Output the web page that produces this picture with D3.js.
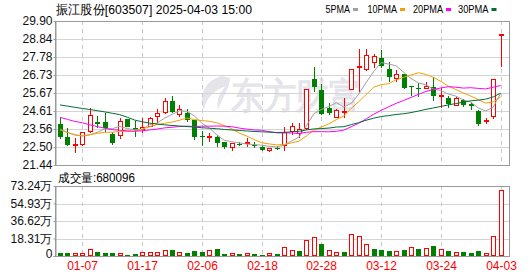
<!DOCTYPE html>
<html>
<head>
<meta charset="utf-8">
<script src="https://cdn.jsdelivr.net/npm/d3@7/dist/d3.min.js"></script>
<style>
body { margin: 0; background: #fff; }
svg { display: block; }
text { font-family: "Liberation Sans", Arial, sans-serif; }
</style>
</head>
<body>
<svg id="chart" width="530" height="276"></svg>
<script>
var stockTitle = "振江股份[603507] 2025-04-03 15:00";
var volTitle = "成交量:680096";
var maNames = ["5PMA", "10PMA", "20PMA", "30PMA"];

var dates = ["01-02","01-03","01-06","01-07","01-08","01-09","01-10","01-13","01-14","01-15",
  "01-16","01-17","01-20","01-21","01-22","01-23","01-24","01-27","02-05","02-06",
  "02-07","02-10","02-11","02-12","02-13","02-14","02-17","02-18","02-19","02-20",
  "02-21","02-24","02-25","02-26","02-27","02-28","03-03","03-04","03-05","03-06",
  "03-07","03-10","03-11","03-12","03-13","03-14","03-17","03-18","03-19","03-20",
  "03-21","03-24","03-25","03-26","03-27","03-28","03-31","04-01","04-02","04-03"];

var open = [23.85,23.08,22.63,22.63,23.42,23.97,23.97,23.26,23.18,24.12,
  23.61,23.54,23.73,24.28,24.51,25.20,24.38,24.51,24.08,23.12,
  23.08,23.10,22.78,22.48,22.70,22.72,22.64,22.52,22.30,22.46,
  22.56,23.42,23.28,23.60,26.47,25.85,24.77,24.24,24.57,25.85,
  27.22,27.06,27.47,27.71,27.07,26.53,26.77,26.06,25.96,25.94,
  26.00,25.51,25.36,24.96,25.24,25.02,24.61,24.02,24.28,29.10];
var high = [24.24,23.59,23.01,23.40,24.77,24.32,24.47,23.40,24.18,24.16,
  24.02,24.18,24.28,24.71,25.36,25.49,24.96,24.71,24.08,23.45,
  23.34,23.20,22.80,22.71,22.77,23.04,22.77,22.55,22.44,22.57,
  23.69,23.89,23.89,25.85,27.20,26.20,25.06,24.71,25.36,27.10,
  28.28,28.24,27.96,28.20,27.50,27.02,26.80,26.10,26.24,26.30,
  26.63,25.95,25.50,25.45,25.30,25.12,24.65,24.22,26.47,29.12];
var low = [22.99,22.58,22.17,22.56,23.34,23.59,23.40,22.60,22.95,23.65,
  23.10,23.34,23.69,23.93,24.44,24.51,24.28,23.99,22.91,22.57,
  22.80,22.47,22.38,22.26,22.57,22.52,22.42,22.28,22.18,22.32,
  22.26,23.20,23.03,23.52,25.75,24.38,24.35,24.19,24.21,25.82,
  25.75,26.98,27.12,27.12,26.33,26.30,25.90,25.49,25.45,25.90,
  25.20,24.77,24.78,24.90,24.85,24.70,23.75,23.85,24.12,27.20];
var close = [23.10,22.60,22.67,23.34,24.32,23.85,23.61,22.75,24.02,23.69,
  23.50,23.65,24.18,24.48,25.16,24.57,24.71,24.08,23.10,23.06,
  23.10,22.73,22.48,22.71,22.66,22.75,22.58,22.30,22.43,22.40,
  23.34,23.69,23.50,25.85,26.02,24.46,24.51,24.67,24.59,27.06,
  27.24,27.90,27.84,27.26,26.63,26.73,25.98,26.02,25.92,26.08,
  25.51,25.55,25.00,25.32,24.95,24.90,23.83,24.06,26.47,29.12];
var prevClose0 = 23.90;

var volume = [31800,31800,21000,21000,70800,42500,31800,31800,21000,10600,
  21000,31800,31800,31800,60000,63700,31800,31800,53000,46000,
  53000,74000,21000,21000,21000,21000,21000,10600,21000,21000,
  92000,60000,53000,159000,198000,127000,60000,39000,42000,223000,
  209000,124000,74000,64000,53000,50000,64000,92000,74000,74000,
  106000,71000,53000,32000,46000,35000,53000,21000,209000,680096];

var ma5 = [23.55,23.35,23.20,23.15,23.21,23.36,23.56,23.57,23.71,23.58,
  23.51,23.52,23.81,23.90,24.19,24.41,24.62,24.60,24.32,23.90,
  23.61,23.21,22.89,22.81,22.74,22.67,22.64,22.60,22.54,22.50,
  22.61,22.84,23.08,23.76,24.46,24.70,24.87,25.10,24.85,25.06,
  25.61,26.29,26.93,27.46,27.37,27.27,26.89,26.52,26.26,26.15,
  25.90,25.82,25.61,25.49,25.27,25.14,24.80,24.61,24.84,25.66];
var ma10 = [23.50,23.35,23.22,23.15,23.22,23.30,23.36,23.36,23.42,23.40,
  23.44,23.54,23.69,23.81,23.89,23.96,24.07,24.20,24.11,24.05,
  24.01,23.92,23.75,23.57,23.32,23.14,22.93,22.75,22.68,22.62,
  22.64,22.74,22.84,23.15,23.49,23.67,23.86,24.10,24.32,24.77,
  25.16,25.58,26.01,26.16,26.22,26.44,26.59,26.73,26.86,26.76,
  26.59,26.35,26.07,25.87,25.67,25.49,25.28,25.08,25.14,25.44];
var ma20 = [24.24,24.12,24.00,23.92,23.80,23.70,23.60,23.52,23.48,23.45,
  23.42,23.45,23.50,23.55,23.62,23.66,23.70,23.72,23.70,23.72,
  23.72,23.73,23.72,23.69,23.61,23.55,23.50,23.48,23.40,23.33,
  23.32,23.32,23.29,23.36,23.40,23.40,23.39,23.42,23.49,23.69,
  23.89,24.15,24.42,24.65,24.86,25.06,25.23,25.41,25.59,25.76,
  25.87,25.97,26.04,26.01,25.96,25.98,25.94,25.91,26.01,26.11];
var ma30 = [24.97,24.90,24.83,24.76,24.70,24.63,24.56,24.48,24.40,24.25,
  24.08,23.98,23.90,23.85,23.80,23.76,23.73,23.70,23.67,23.63,
  23.60,23.57,23.53,23.50,23.47,23.44,23.41,23.39,23.37,23.35,
  23.36,23.39,23.42,23.50,23.56,23.58,23.61,23.67,23.69,23.81,
  23.93,24.07,24.19,24.29,24.34,24.41,24.45,24.52,24.61,24.71,
  24.79,24.88,24.97,25.05,25.13,25.21,25.25,25.31,25.44,25.66];

var priceTicks = ["21.44","22.50","23.56","24.61","25.67","26.73","27.78","28.84","29.90"];
var volTicks = [0, 183100, 366200, 549300, 732400];
var volTickLabels = ["0", "18.31万", "36.62万", "54.93万", "73.24万"];
var dateLabels = ["01-07","01-17","02-06","02-18","02-28","03-12","03-24","04-03"];

var RED = "#ff0000", GREEN = "#008000", BORDER = "#999", GRID = "#d4d4d4";
var maColors = ["#a0a0a0", "#f5a000", "#ff00ff", "#006f35"];
var LEFT = 55, RIGHT = 509, TOP = 21, BOTTOM = 165, VTOP = 186, VBOTTOM = 256;

var svg = d3.select("#chart");

var x = d3.scaleBand().domain(dates).range([56.2, 504.4]);
var cx = function(d) { return Math.round(x(d) + x.bandwidth() / 2) + 0.5; };
var y = d3.scaleLinear().domain([+priceTicks[0], +priceTicks[priceTicks.length - 1]]).range([BOTTOM, TOP]);
var vy = d3.scaleLinear().domain([0, volTicks[volTicks.length - 1]]).range([VBOTTOM, VTOP]);

// watermark
var wm = svg.append("g").attr("fill", "#e4e4ea");
wm.append("path")
  .attr("d", "M222,76 C206,80 198,94 204,110 C206,98 214,90 226,86 C220,92 216,100 218,110 C222,98 230,88 230,78 Z")
  .attr("fill", "#e4e4ea");
wm.append("text")
  .attr("x", 231).attr("y", 108)
  .attr("font-family", "Noto Sans CJK SC")
  .attr("font-weight", "bold")
  .attr("font-size", 36)
  .attr("textLength", 130)
  .attr("lengthAdjust", "spacingAndGlyphs")
  .text("东方财富");

// horizontal grid lines
svg.append("g").selectAll("line")
  .data(priceTicks.slice(1, -1))
  .join("line")
  .attr("x1", LEFT).attr("x2", RIGHT)
  .attr("y1", function(d) { return Math.round(y(+d)) + 0.5; })
  .attr("y2", function(d) { return Math.round(y(+d)) + 0.5; })
  .attr("stroke", GRID);

svg.append("g").selectAll("line")
  .data(volTicks.slice(1, -1))
  .join("line")
  .attr("x1", LEFT).attr("x2", RIGHT)
  .attr("y1", function(d) { return Math.round(vy(d)) + 0.5; })
  .attr("y2", function(d) { return Math.round(vy(d)) + 0.5; })
  .attr("stroke", GRID);

// vertical dashed lines
[[TOP, BOTTOM], [VTOP, VBOTTOM]].forEach(function(span) {
  svg.append("g").selectAll("line")
    .data(dateLabels)
    .join("line")
    .attr("x1", cx).attr("x2", cx)
    .attr("y1", span[0]).attr("y2", span[1])
    .attr("stroke", "#c8c8c8")
    .attr("stroke-dasharray", "4,4");
});

// panel borders
[[TOP, BOTTOM], [VTOP, VBOTTOM]].forEach(function(span) {
  svg.append("rect")
    .attr("x", LEFT + 0.5).attr("y", span[0] + 0.5)
    .attr("width", RIGHT - LEFT).attr("height", span[1] - span[0])
    .attr("fill", "none")
    .attr("stroke", BORDER);
});

// axes
var yAxis = svg.append("g")
  .attr("transform", "translate(" + (LEFT + 0.5) + ",0)")
  .call(d3.axisLeft(y).tickValues(priceTicks.map(Number)).tickFormat(d3.format(".2f")).tickSize(2).tickPadding(1).tickSizeOuter(0));
var vAxis = svg.append("g")
  .attr("transform", "translate(" + (LEFT + 0.5) + ",0)")
  .call(d3.axisLeft(vy).tickValues(volTicks).tickFormat(function(d, i) { return volTickLabels[i]; }).tickSize(2).tickPadding(1).tickSizeOuter(0));
[yAxis, vAxis].forEach(function(a) {
  a.select(".domain").attr("stroke", BORDER);
  a.selectAll(".tick line").attr("stroke", BORDER);
  a.selectAll(".tick text").attr("fill", "#111").attr("font-size", 12)
    .attr("font-family", "Liberation Sans, Noto Sans CJK SC");
});
vAxis.selectAll(".tick text").filter(function(d) { return d === 0; }).attr("dy", "0.1em");

// candles
var isUp = function(i) { return close[i] >= open[i]; };
svg.append("g").attr("shape-rendering", "crispEdges").selectAll("g")
  .data(dates)
  .join("g")
  .each(function(d, i) {
    var g = d3.select(this), c = cx(d);
    var top = y(Math.max(open[i], close[i])), bot = y(Math.min(open[i], close[i]));
    if (bot - top < 1) bot = top + 1;
    if (isUp(i)) {
      g.append("line").attr("x1", c).attr("x2", c).attr("y1", y(high[i])).attr("y2", top).attr("stroke", RED);
      g.append("line").attr("x1", c).attr("x2", c).attr("y1", bot).attr("y2", y(low[i])).attr("stroke", RED);
      g.append("rect").attr("x", c - 2).attr("y", top).attr("width", 4).attr("height", bot - top)
        .attr("fill", "#fff").attr("stroke", RED);
    } else {
      g.append("line").attr("x1", c).attr("x2", c).attr("y1", y(high[i])).attr("y2", y(low[i])).attr("stroke", GREEN);
      g.append("rect").attr("x", c - 2.5).attr("y", top).attr("width", 5).attr("height", bot - top)
        .attr("fill", GREEN);
    }
  });

// moving averages
var maSeries = [ma5, ma10, ma20, ma30];
var line = d3.line().x(function(d, i) { return x(dates[i]) + x.bandwidth() / 2; }).y(function(d) { return y(d); });
maSeries.forEach(function(s, k) {
  svg.append("path")
    .datum(s)
    .attr("d", line)
    .attr("fill", "none")
    .attr("stroke", maColors[k])
    .attr("stroke-width", 1);
});

// volume bars, coloured by close against previous close
var volUp = function(i) { return close[i] >= (i === 0 ? prevClose0 : close[i - 1]); };
svg.append("g").attr("shape-rendering", "crispEdges").selectAll("rect")
  .data(volume)
  .join("rect")
  .each(function(v, i) {
    var r = d3.select(this), c = cx(dates[i]);
    var top = vy(v), h = Math.max(1, VBOTTOM - vy(v));
    if (volUp(i)) {
      r.attr("x", c - 2).attr("y", top).attr("width", 4).attr("height", h - 0.5)
        .attr("fill", "#fff").attr("stroke", RED);
    } else {
      r.attr("x", c - 2.5).attr("y", top).attr("width", 5).attr("height", h).attr("fill", GREEN);
    }
  });

// date labels
svg.append("g").selectAll("text")
  .data(dateLabels)
  .join("text")
  .attr("x", cx)
  .attr("y", 270)
  .attr("text-anchor", "middle")
  .attr("font-size", 12)
  .attr("fill", RED)
  .text(function(d) { return d; });

// titles
svg.append("text")
  .attr("x", 56).attr("y", 14)
  .attr("font-family", "Noto Sans CJK SC")
  .attr("font-size", 13)
  .attr("textLength", 196)
  .attr("lengthAdjust", "spacingAndGlyphs")
  .attr("fill", "#000")
  .text(stockTitle);

svg.append("text")
  .attr("x", 58).attr("y", 182)
  .attr("font-family", "Noto Sans CJK SC")
  .attr("font-size", 12)
  .attr("textLength", 77)
  .attr("lengthAdjust", "spacingAndGlyphs")
  .attr("fill", "#000")
  .text(volTitle);

// legend
var legendX = [325.5, 367.5, 413, 458];
var legendW = [24.5, 29.5, 30, 30.5];
var legend = svg.append("g").selectAll("g")
  .data(maNames)
  .join("g");
legend.append("text")
  .attr("x", function(d, i) { return legendX[i]; })
  .attr("y", 13)
  .attr("font-size", 11)
  .attr("textLength", function(d, i) { return legendW[i]; })
  .attr("lengthAdjust", "spacingAndGlyphs")
  .attr("fill", "#000")
  .text(function(d) { return d; });
legend.append("rect")
  .attr("x", function(d, i) { return legendX[i] + legendW[i] + 3; })
  .attr("y", 8)
  .attr("width", 5).attr("height", 3)
  .attr("fill", function(d, i) { return maColors[i]; });
</script>
</body>
</html>
